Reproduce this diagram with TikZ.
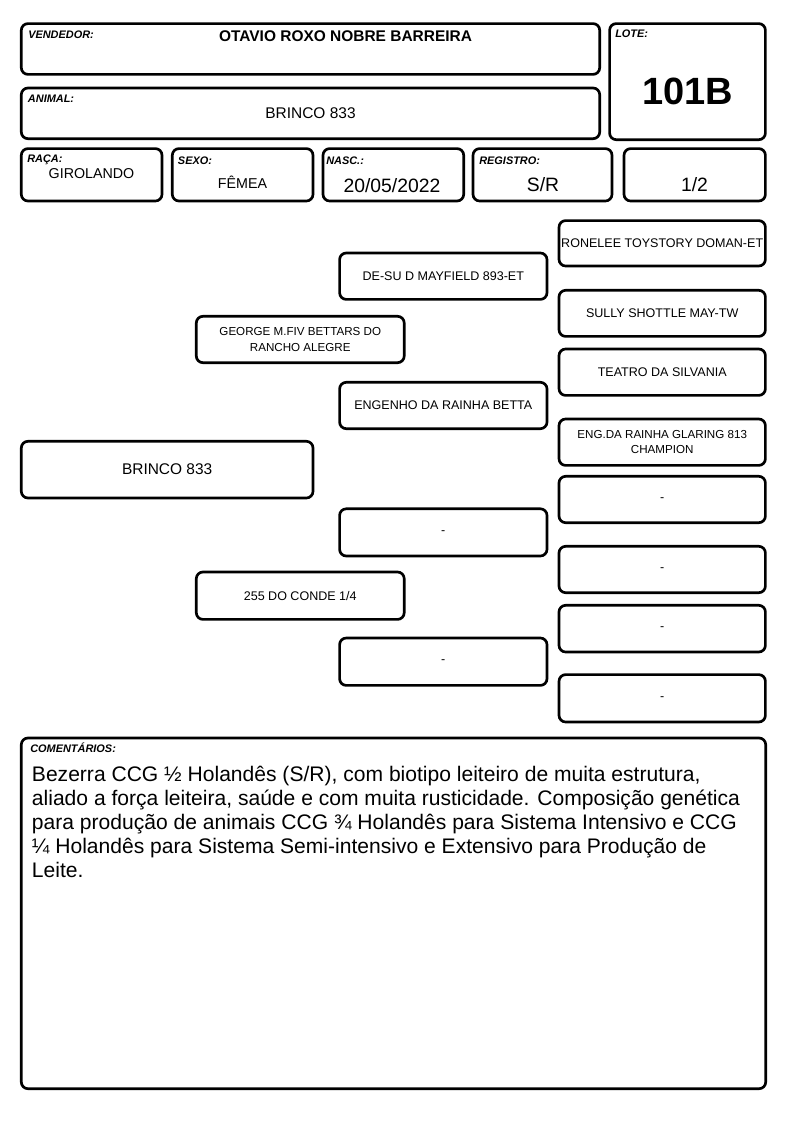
\documentclass[tikz,border=0pt]{standalone}
\usepackage{fontspec}
\setmainfont{Liberation Sans}
\newcommand\bx[7][]{\node[box,#1,minimum width={(#5-#3-2.6)*0.75pt},minimum height={(#6-#4-2.6)*0.75pt}] (#2) at ({(#3+#5)/2},{(#4+#6)/2}) {#7};}
\tikzset{
  box/.style={draw=black, line width=2pt, rounded corners=5pt, fill=white, inner sep=0pt, align=center, font=\fontsize{9.4}{12}\selectfont},
  small/.style={font=\fontsize{8.7}{11.7}\selectfont},
  mid/.style={font=\fontsize{11.6}{14}\selectfont},
  lbl/.style={anchor=base west, inner sep=0pt, font=\fontsize{8.2}{10}\selectfont\bfseries\itshape},
  val/.style={anchor=base, inner sep=0pt},
  cmt/.style={anchor=base west, inner sep=0pt, font=\fontsize{15.8}{18}\selectfont}
}
\begin{document}
\begin{tikzpicture}[x=0.75pt,y=-0.75pt]
\useasboundingbox (0,0) rectangle (794,1123);
% header boxes
\bx{vend}{20}{22.3}{601}{75.7}{}
\bx{lote}{608.3}{22.3}{766.7}{141}{}
\bx[mid]{anim}{20}{86.7}{601}{140}{BRINCO 833}
\bx{raca}{20}{147.3}{163.3}{202.3}{}
\bx{sexo}{171}{147.3}{314.3}{202.3}{}
\bx{nasc}{321.7}{147.3}{465}{202.3}{}
\bx{regi}{471.7}{147.3}{613.3}{202.3}{}
\bx{frac}{622.7}{147.3}{766.7}{202.3}{}
% header texts
\node[lbl] (lvend) at (28,39) {VENDEDOR:};
\node[val,font=\fontsize{11.6}{14}\selectfont\bfseries] (tvend) at (345.5,42) {OTAVIO ROXO NOBRE BARREIRA};
\node[lbl] (lanim) at (27.7,102.7) {ANIMAL:};
\node[lbl] (llote) at (615,37.7) {LOTE:};
\node[val,font=\fontsize{28.5}{32}\selectfont\bfseries] (tlote) at (687.5,104.3) {101B};
\node[lbl] (lraca) at (27,162.7) {RAÇA:};
\node[val,font=\fontsize{10.7}{13}\selectfont] (traca) at (91.5,178.3) {GIROLANDO};
\node[lbl] (lsexo) at (177.7,164.3) {SEXO:};
\node[val,font=\fontsize{10.7}{13}\selectfont] (tsexo) at (242.5,189) {FÊMEA};
\node[lbl] (lnasc) at (326,164.5) {NASC.:};
\node[val,font=\fontsize{14.5}{17}\selectfont] (tnasc) at (392,192.3) {20/05/2022};
\node[lbl] (lregi) at (479,165) {REGISTRO:};
\node[val,font=\fontsize{14.5}{17}\selectfont] (tregi) at (543,191.7) {S/R};
\node[val,font=\fontsize{14.5}{17}\selectfont] (tfrac) at (694.5,192) {1/2};
% pedigree
\bx[mid]{p0}{20}{440}{314.3}{499.3}{BRINCO 833}
\bx[small]{p1}{195}{315}{405.5}{364}{GEORGE M.FIV BETTARS DO\\RANCHO ALEGRE}
\bx{p2}{195}{570.7}{405.5}{620.7}{255 DO CONDE 1/4}
\bx{p3}{338.3}{251.7}{548.3}{300.7}{DE-SU D MAYFIELD 893-ET}
\bx{p4}{338.3}{381}{548.3}{430}{ENGENHO DA RAINHA BETTA}
\bx{p5}{338.3}{507.5}{548.3}{557.3}{-}
\bx{p6}{338.3}{636.7}{548.3}{686.7}{-}
\bx{p7}{557.7}{219.3}{766.7}{267.3}{RONELEE TOYSTORY DOMAN-ET}
\bx{p8}{557.7}{289}{766.7}{337.7}{SULLY SHOTTLE MAY-TW}
\bx{p9}{557.7}{347.7}{766.7}{396.7}{TEATRO DA SILVANIA}
\bx[small]{p10}{557.7}{417.7}{766.7}{466.7}{ENG.DA RAINHA GLARING 813\\CHAMPION}
\bx{p11}{557.7}{475}{766.7}{524}{-}
\bx{p12}{557.7}{545}{766.7}{594}{-}
\bx{p13}{557.7}{604}{766.7}{653.3}{-}
\bx{p14}{557.7}{673.3}{766.7}{723.3}{-}
% comments
\bx{coment}{20}{736.7}{767}{1090}{}
\node[lbl] (lcom) at (30,752.7) {COMENTÁRIOS:};
\node[cmt] (c1) at (31.7,781.7) {Bezerra CCG ½ Holandês (S/R), com biotipo leiteiro de muita estrutura,};
\node[cmt] (c2) at (31.7,805.7) {aliado a força leiteira, saúde e com muita rusticidade. Composição genética};
\node[cmt] (c3) at (31.7,829.7) {para produção de animais CCG ¾ Holandês para Sistema Intensivo e CCG};
\node[cmt] (c4) at (31.7,853.7) {¼ Holandês para Sistema Semi-intensivo e Extensivo para Produção de};
\node[cmt] (c5) at (31.7,877.7) {Leite.};
\end{tikzpicture}
\end{document}
